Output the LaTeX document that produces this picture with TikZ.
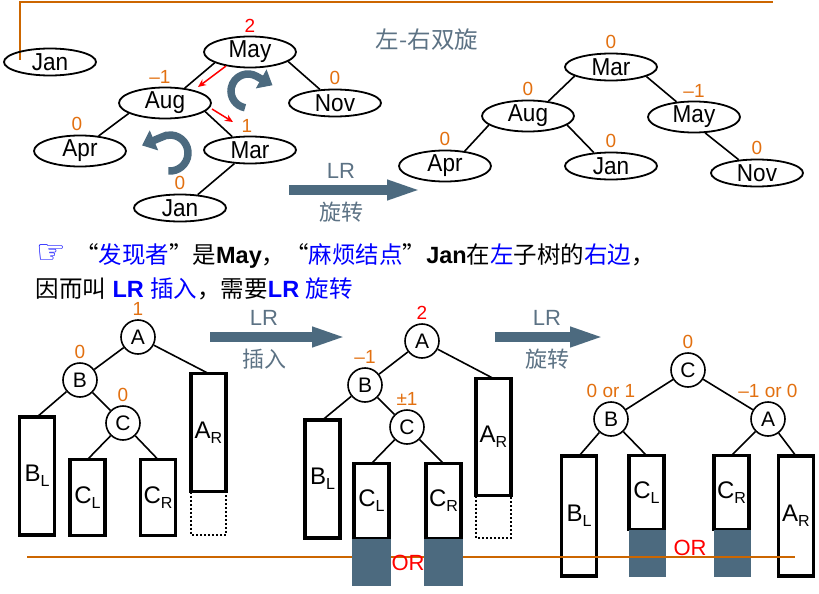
\documentclass[tikz,border=0pt]{standalone}
\usepackage{fontspec}
\setmainfont{Liberation Sans}
\newfontfamily\cjk{Noto Sans CJK SC}
\newfontfamily\symf{DejaVu Sans}
\newfontfamily\keyf[FakeStretch=0.92]{Liberation Sans}
\usetikzlibrary{shapes.geometric}
\usetikzlibrary{arrows.meta}
\definecolor{orng}{RGB}{226,112,16}
\definecolor{rulec}{RGB}{204,102,0}
\definecolor{steel}{RGB}{76,106,127}
\definecolor{capc}{RGB}{92,114,132}
\newcommand{\lo}[1]{\raisebox{-5pt}{\fontsize{16}{16}\selectfont #1}}
\tikzset{%
    key/.style={ellipse,draw,line width=1.8pt,minimum width=92pt,minimum height=27pt,inner sep=0pt,font=\keyf\fontsize{24.5}{24.5}\selectfont},
    vtx/.style={circle,draw,line width=1.6pt,minimum size=34pt,inner sep=0pt,font=\fontsize{21}{21}\selectfont},
    subtree/.style={draw,line width=3.5pt,minimum width=35pt,inner sep=0pt,outer sep=0pt,font=\fontsize{24}{24}\selectfont}
}
\begin{document}
\begin{tikzpicture}[x=1pt,y=-1pt,
        edge/.style={line width=1.6pt},
        bal/.style={text=orng,font=\fontsize{19}{19}\selectfont},
        every label/.style={label distance=0pt},
        redarr/.style={red,line width=1.5pt,-{Stealth[length=8pt,width=7pt]}},
        bigarr/.style={steel,line width=10pt,-{Triangle[length=35pt,width=18pt]}},
        turn/.style={steel,line width=7.5pt,-{Triangle[length=13pt,width=21pt]}},
        arrtext/.style={text=capc,font=\fontsize{22}{22}\selectfont},
        arrzh/.style={text=capc,font=\cjk\fontsize{22}{22}\selectfont},
        hole/.style={dotted,line width=2pt},
        ruler/.style={rulec,line width=2pt}
        ]
        \useasboundingbox (0,0) rectangle (819,594);

        \draw[ruler] (20,60) -- (20,2) -- (773,2);
        \node[text=capc,font=\cjk\fontsize{23.5}{23.5}\selectfont] (title) at (427,40) {左-右双旋};

        \node[key] (jan0) at (50,62) {Jan};
        \node[key,label={[bal,text=red]above:2}] (may1) at (250,52) {May};
        \node[key,label={[bal,xshift=-5pt]above:–1}] (aug1) at (165,103) {Aug};
        \node[key,label={[bal]above:0}] (nov1) at (335,103) {Nov};
        \node[key,label={[bal,xshift=-3pt]above:0}] (apr1) at (80,151) {Apr};
        \node[key,label={[bal,xshift=-3pt]above:1}] (mar1) at (250,150) {Mar};
        \node[key,label={[bal]above:0}] (jan1) at (180,208) {Jan};

        \draw[edge] (may1.197) -- (aug1.37);
        \draw[edge] (may1.-14) -- (nov1.138);
        \draw[edge] (aug1.196) -- (apr1.39);
        \draw[edge] (aug1.-12) -- (mar1.143);
        \draw[edge] (mar1.221) -- (jan1.37);

        \coordinate (r1s) at (226,66);
        \coordinate (r1e) at (198,87);
        \coordinate (r2s) at (212,109);
        \coordinate (r2e) at (233,122);
        \draw[redarr] (r1s) -- (r1e);
        \draw[redarr] (r2s) -- (r2e);

        \draw[turn] (248,91) ++(100:17) arc[start angle=100,end angle=300,radius=17] -- ++(16,9);
        \draw[turn] (170,153) ++(95:18) arc[start angle=95,end angle=-120,radius=18] -- ++(-19,8);

        \coordinate (t1) at (289,190);
        \coordinate (t2) at (422,190);
        \draw[bigarr] (t1) -- (t2);
        \node[arrtext] (tlr) at (341,171) {LR};
        \node[arrzh] (trot) at (341,212) {旋转};

        \node[key,label={[bal]above:0}] (mar2) at (611,67) {Mar};
        \node[key,label={[bal]above:0}] (aug2) at (528,116) {Aug};
        \node[key,label={[bal]above:–1}] (may2) at (694,117) {May};
        \node[key,label={[bal]above:0}] (apr2) at (445,166) {Apr};
        \node[key,label={[bal]above:0}] (jan2) at (611,166) {Jan};
        \node[key,label={[bal]above:0}] (nov2) at (757,173) {Nov};

        \draw[edge] (mar2.194) -- (aug2.36);
        \draw[edge] (mar2.-15) -- (may2.139);
        \draw[edge] (aug2.193) -- (apr2.37);
        \draw[edge] (aug2.-13) -- (jan2.142);
        \draw[edge] (may2.-55) -- (nov2.144);

        \node[anchor=base west,font=\fontsize{23.5}{23.5}\selectfont] (line1) at (33,263)
            {{\symf\fontsize{33}{33}\selectfont\color{blue}☞}\hspace{9pt}{\cjk “{\color{blue}发现者}”是}\textbf{May}{\cjk ，“{\color{blue}麻烦结点}”}\textbf{Jan}{\cjk 在{\color{blue}左}子树的{\color{blue}右边}，}};
        \node[anchor=base west,font=\fontsize{23.5}{23.5}\selectfont] (line2) at (32,297)
            {{\cjk 因而叫} {\color{blue}\textbf{LR} {\cjk 插入}}{\cjk ，需要}{\color{blue}\textbf{LR} {\cjk 旋转}}};

        \node[vtx,label={[bal]above:1}] (a1) at (138,337) {A};
        \node[vtx,label={[bal]above:0}] (b1) at (80,380) {B};
        \node[vtx,label={[bal]above:0}] (c1) at (123,423) {C};
        \node[subtree,minimum height=118pt] (bl1) at (37,476) {B\lo{L}};
        \node[subtree,minimum height=76pt] (cl1) at (87.5,497.5) {C\lo{L}};
        \node[subtree,minimum height=76pt] (cr1) at (158,497.5) {C\lo{R}};
        \node[subtree,minimum height=118pt] (ar1) at (208.5,432.5) {A\lo{R}};
        \draw[hole] (ar1.south west) -- ++(0,43) -| (ar1.south east);

        \draw[edge] (a1) -- (b1);
        \draw[edge] (a1) -- (ar1.north);
        \draw[edge] (b1) -- (bl1.north);
        \draw[edge] (b1) -- (c1);
        \draw[edge] (c1) -- (cl1.north);
        \draw[edge] (c1) -- (cr1.north);

        \coordinate (m1) at (210,337);
        \coordinate (m2) at (347,337);
        \draw[bigarr] (m1) -- (m2);
        \node[arrtext] (mlr) at (264,318) {LR};
        \node[arrzh] (mins) at (264,359) {插入};

        \coordinate (n1) at (495,337);
        \coordinate (n2) at (605,337);
        \draw[bigarr] (n1) -- (n2);
        \node[arrtext] (nlr) at (547,318) {LR};
        \node[arrzh] (nrot) at (547,359) {旋转};

        \node[subtree,minimum height=120pt] (bl3) at (579,516) {B\lo{L}};
        \node[subtree,minimum height=74pt] (cl3) at (646.5,492.5) {C\lo{L}};
        \node[subtree,minimum height=74pt] (cr3) at (731.5,492.5) {C\lo{R}};
        \node[subtree,minimum height=120pt] (ar3) at (796,516) {A\lo{R}};
        \fill[steel] (cl3.south west) rectangle ++(37,47);
        \fill[steel] (cr3.south west) rectangle ++(37,47);

        \draw[ruler] (27,557) -- (795,557);

        \node[vtx,label={[bal,text=red]above:2}] (a2) at (422,341) {A};
        \node[vtx,label={[bal]above:–1}] (b2) at (365,385) {B};
        \node[vtx,label={[bal]above:±1}] (c2) at (407,427) {C};
        \node[subtree,minimum height=118pt] (bl2) at (322.5,479) {B\lo{L}};
        \node[subtree,minimum height=75pt] (cl2) at (371.5,501) {C\lo{L}};
        \node[subtree,minimum height=75pt] (cr2) at (443.5,501) {C\lo{R}};
        \node[subtree,minimum height=117pt] (ar2) at (493.5,437) {A\lo{R}};
        \draw[hole] (ar2.south west) -- ++(0,42) -| (ar2.south east);
        \fill[steel] ([xshift=-1.75pt]cl2.south west) rectangle ++(39,47);
        \fill[steel] ([xshift=-1.75pt]cr2.south west) rectangle ++(39,47);
        \node[text=red,font=\fontsize{22}{22}\selectfont] (or2) at (408,563) {OR};

        \draw[edge] (a2) -- (b2);
        \draw[edge] (a2) -- (ar2.north);
        \draw[edge] (b2) -- (bl2.north);
        \draw[edge] (b2) -- (c2);
        \draw[edge] (c2) -- (cl2.north);
        \draw[edge] (c2) -- (cr2.north);

        \node[vtx,label={[bal]above:0}] (c3) at (688,370) {C};
        \node[vtx,label={[bal]above:0 or 1}] (b3) at (611,419) {B};
        \node[vtx,label={[bal]above:–1 or 0}] (a3) at (768,419) {A};
        \node[text=red,font=\fontsize{22}{22}\selectfont] (or3) at (690,548) {OR};

        \draw[edge] (c3) -- (b3);
        \draw[edge] (c3) -- (a3);
        \draw[edge] (b3) -- (bl3.north);
        \draw[edge] (b3) -- (cl3.north);
        \draw[edge] (a3) -- (cr3.north);
        \draw[edge] (a3) -- (ar3.north);
    \end{tikzpicture}
\end{document}
